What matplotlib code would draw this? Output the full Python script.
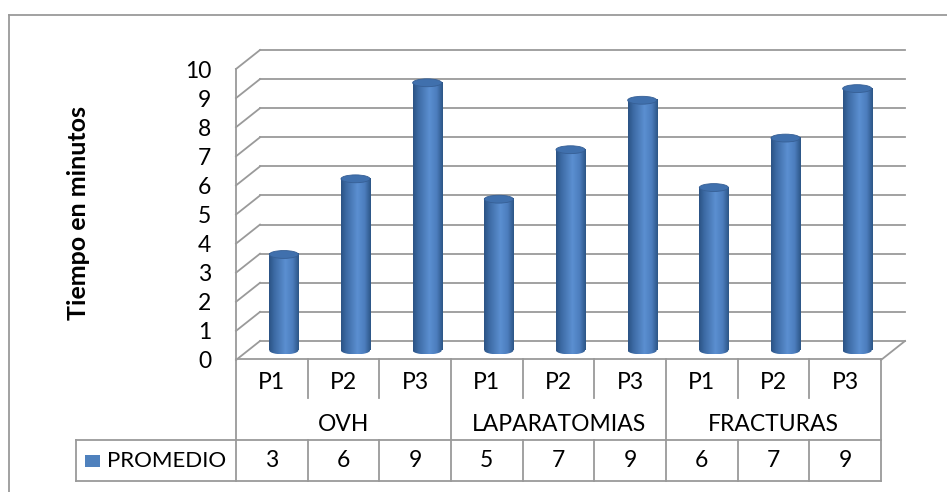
import matplotlib.pyplot as plt
import numpy as np
from matplotlib.colors import LinearSegmentedColormap
from matplotlib.patches import Ellipse, Rectangle
from matplotlib.lines import Line2D

plt.rcParams['font.family'] = ['Lato', 'DejaVu Sans']

grupos = ["OVH", "LAPARATOMIAS", "FRACTURAS"]
pruebas = ["P1", "P2", "P3"]
promedio = [3.3, 5.9, 9.2, 5.2, 6.9, 8.6, 5.6, 7.3, 9.0]
serie = "PROMEDIO"
y_ticks = list(range(0, 11))

W, H = 947, 492
GRID = "#9a9a9a"
AZUL = "#4f81bd"


def px(x0, y0, x1, y1):
    # rectangle in pixel coords (top-left origin) -> figure fraction
    return [x0 / W, 1 - y1 / H, (x1 - x0) / W, (y1 - y0) / H]


fig = plt.figure(figsize=(W / 100, H / 100), dpi=100)

# outer frame of the chart area
fig.add_artist(Line2D([9 / W, 1], [1 - 15 / H, 1 - 15 / H], color=GRID, lw=1.3))
fig.add_artist(Line2D([9 / W, 9 / W], [0, 1 - 15 / H], color=GRID, lw=1.3))

n = len(promedio)
ax = fig.add_axes(px(236, 69, 881, 360))
ax.set_xlim(0, n)
ax.set_ylim(0, 10)
for s in ax.spines.values():
    s.set_visible(False)
ax.set_xticks([])
ax.set_yticks(y_ticks)
ax.set_yticklabels([str(t) for t in y_ticks], fontsize=16.5)
ax.tick_params(axis="y", length=0, pad=18)

# depth of the 3D box, in data units
dx = 24 / (645 / n)
dy = 19 / 29.1

# back wall, side wall and floor gridlines
for k in y_ticks:
    ax.plot([dx, n + dx], [k + dy, k + dy], color=GRID, lw=1.3, zorder=1, clip_on=False)
    ax.plot([0, dx], [k, k + dy], color=GRID, lw=1.3, zorder=1, clip_on=False)
ax.plot([0, 0], [0, 10], color=GRID, lw=1.3, zorder=1, clip_on=False)
ax.plot([n, n + dx], [0, dy], color=GRID, lw=1.3, zorder=1, clip_on=False)

# cylinders
cmap = LinearSegmentedColormap.from_list(
    "cil", [(0, "#2b5385"), (0.18, "#3d6ba5"), (0.55, "#5b8fd1"),
            (0.8, "#4c7dbd"), (1, "#2d5687")])
grad = np.linspace(0, 1, 64)[None, :]
w = 0.405
eh = 0.27
for i, v in enumerate(promedio):
    xc = i + 0.5 + dx / 2
    yb = dy / 2
    top = yb + v
    body = ax.imshow(grad, cmap=cmap, extent=(xc - w / 2, xc + w / 2, yb, top),
                     aspect="auto", zorder=3, interpolation="bilinear")
    base = ax.imshow(grad, cmap=cmap, extent=(xc - w / 2, xc + w / 2, yb - eh / 2, yb),
                     aspect="auto", zorder=3, interpolation="bilinear")
    clip = Ellipse((xc, yb), w, eh, transform=ax.transData)
    base.set_clip_path(clip)
    ax.add_patch(Ellipse((xc, top), w, eh, facecolor="#4070ad",
                         edgecolor="#365f95", lw=0.6, zorder=4))
ax.set_xlim(0, n)
ax.set_ylim(0, 10)

# data table under the plot
tab = fig.add_axes(px(76, 359, 881, 481))
leg_w = 160 / (645 / n)
tab.set_xlim(-leg_w, n)
tab.set_ylim(0, 3)
tab.axis("off")


def line(xs, ys):
    tab.plot(xs, ys, color=GRID, lw=1.3, clip_on=False)


line([0, n], [3, 3])
line([-leg_w, n], [1, 1])
line([-leg_w, n], [0, 0])
line([-leg_w, -leg_w], [0, 1])
line([0, 0], [0, 3])
for j in range(1, n + 1):
    if j % 3 == 0:
        line([j, j], [0, 3])
    else:
        line([j, j], [2.05, 3])
        line([j, j], [0, 1])

for i in range(n):
    tab.text(i + 0.5, 2.42, pruebas[i % 3], ha="center", va="center", fontsize=16.5)
    tab.text(i + 0.5, 0.5, f"{promedio[i]:.0f}", ha="center", va="center", fontsize=16.5)
for g, nombre in enumerate(grupos):
    tab.text(g * 3 + 1.5, 1.38, nombre, ha="center", va="center", fontsize=16.5)

tab.add_patch(Rectangle((-leg_w + 0.13, 0.35), 0.2, 0.3, facecolor=AZUL,
                        edgecolor="none", clip_on=False))
tab.text(-leg_w + 0.43, 0.5, serie, ha="left", va="center", fontsize=16)

fig.text(79 / W, 1 - 213 / H, "Tiempo en minutos", rotation=90, ha="center",
         va="center", fontsize=18, fontweight="bold")

fig.savefig("out.png", dpi=100)
